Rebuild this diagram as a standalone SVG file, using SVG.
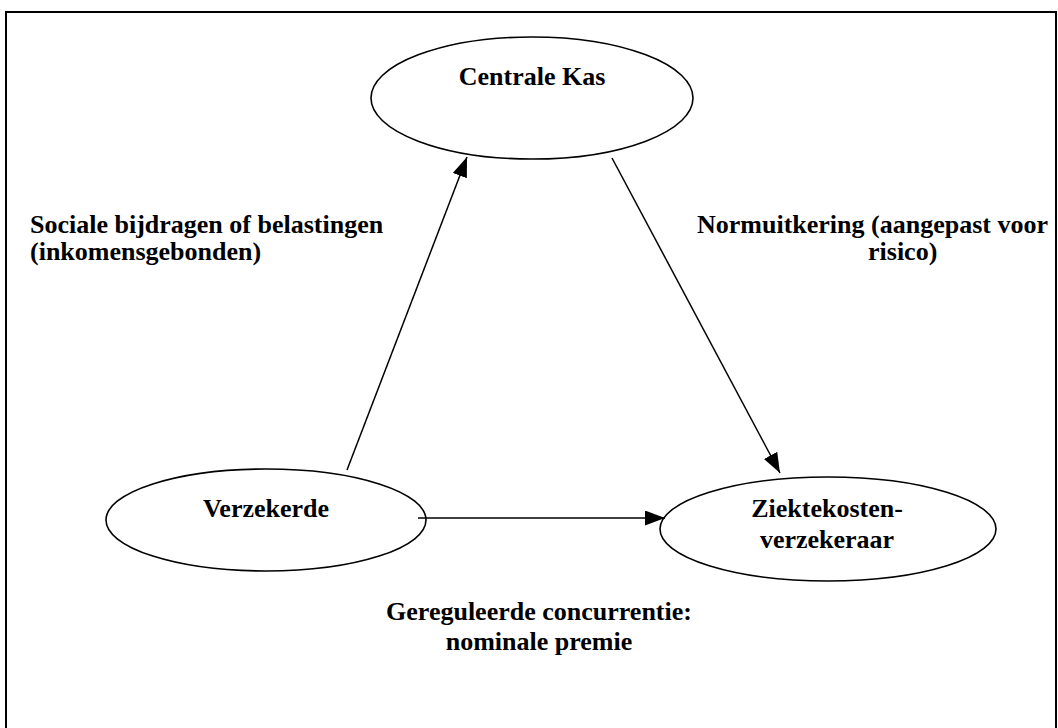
<svg xmlns="http://www.w3.org/2000/svg" width="1058" height="728" viewBox="0 0 1058 728">
  <style>
    .node { fill: #ffffff; stroke: #000000; stroke-width: 1.6; }
    .edge { fill: none; stroke: #000000; stroke-width: 1.5; }
    .t { font-family: "Liberation Serif", "Times New Roman", serif; font-weight: bold; font-size: 26px; fill: #000000; }
    .c { text-anchor: middle; }
  </style>
  <defs>
    <marker id="arrow" markerUnits="userSpaceOnUse" markerWidth="22" markerHeight="16" refX="20" refY="7.5" orient="auto">
      <path d="M0,0 L20,7.5 L0,15 z" fill="#000000"/>
    </marker>
  </defs>
  <rect x="0" y="0" width="1058" height="728" fill="#ffffff"/>
  <path d="M6,740 L6,12 L1056,12 L1056,740" fill="none" stroke="#000000" stroke-width="2"/>

  <g id="node-centrale-kas">
    <ellipse class="node" cx="532" cy="98" rx="161" ry="61"/>
    <text class="t c" x="532" y="85">Centrale Kas</text>
  </g>
  <g id="node-verzekerde">
    <ellipse class="node" cx="266" cy="520" rx="160" ry="51"/>
    <text class="t c" x="266" y="517">Verzekerde</text>
  </g>
  <g id="node-ziektekosten">
    <ellipse class="node" cx="828" cy="529" rx="168" ry="52"/>
    <text class="t c" x="827" y="517">Ziektekosten-</text>
    <text class="t c" x="827" y="548">verzekeraar</text>
  </g>

  <g id="connectors">
    <line class="edge" x1="347" y1="470" x2="467" y2="157" marker-end="url(#arrow)"/>
    <line class="edge" x1="612" y1="158" x2="780" y2="473" marker-end="url(#arrow)"/>
    <line class="edge" x1="418" y1="518" x2="665" y2="518" marker-end="url(#arrow)"/>
  </g>

  <g id="labels">
    <text class="t" x="30" y="233">Sociale bijdragen of belastingen</text>
    <text class="t" x="30" y="260">(inkomensgebonden)</text>
    <text class="t" x="697" y="233">Normuitkering (aangepast voor</text>
    <text class="t" x="868" y="260">risico)</text>
    <text class="t c" x="539" y="620">Gereguleerde concurrentie:</text>
    <text class="t c" x="539" y="650">nominale premie</text>
  </g>
</svg>
